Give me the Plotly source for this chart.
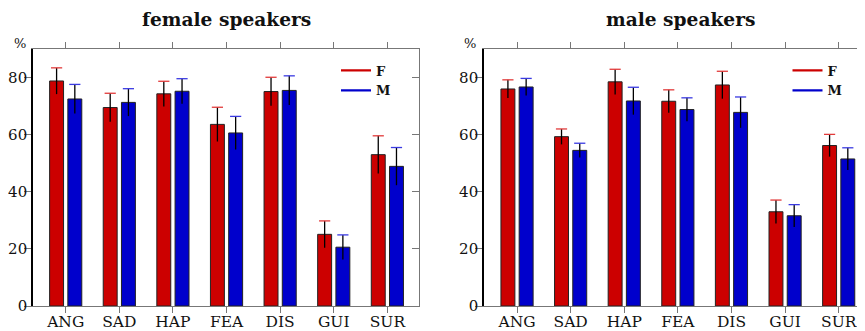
import plotly.graph_objects as go

categories = ["ANG", "SAD", "HAP", "FEA", "DIS", "GUI", "SUR"]
female_F = [78.8, 69.5, 74.3, 63.6, 75.1, 25.1, 53.0]
female_F_err = [4.6, 5.0, 4.4, 6.0, 5.0, 4.7, 6.6]
female_M = [72.5, 71.3, 75.2, 60.6, 75.5, 20.6, 48.9]
female_M_err = [5.1, 4.8, 4.4, 5.8, 5.1, 4.3, 6.6]
male_F = [76.0, 59.3, 78.5, 71.7, 77.4, 33.0, 56.2]
male_F_err = [3.2, 2.7, 4.4, 4.0, 4.8, 4.1, 3.9]
male_M = [76.7, 54.5, 71.8, 68.8, 67.8, 31.6, 51.5]
male_M_err = [3.0, 2.5, 4.8, 4.1, 5.4, 3.9, 3.9]
y_ticks = [0, 20, 40, 60, 80]
panel_titles = ["female speakers", "male speakers"]
series_names = ["F", "M"]

RED = "#CC0000"
BLUE = "#0000CC"
RED_CAP = "#E23A3A"
BLUE_CAP = "#3A3AE2"
W, H = 865, 331
OFF = 8  # page body margin offset
T = 49 - OFF
PLOT_BOTTOM = 306 - OFF
B = H - PLOT_BOTTOM
PLOT_H = PLOT_BOTTOM - T
SERIF = "DejaVu Serif"

idx = list(range(len(categories)))
fig = go.Figure()


def py(pix):
    """window pixel y -> paper y"""
    return (PLOT_BOTTOM - (pix - OFF)) / PLOT_H


def px(pix):
    """window pixel x -> paper x"""
    return (pix - OFF) / W


def add_panel(xa, ya, F, Ferr, M, Merr, legend):
    for vals, errs, color, cap, off, name in [
        (F, Ferr, RED, RED_CAP, -0.30, series_names[0]),
        (M, Merr, BLUE, BLUE_CAP, 0.04, series_names[1]),
    ]:
        centers = [i + off + 0.13 for i in idx]
        fig.add_trace(go.Bar(
            x=idx, y=vals, width=0.26, offset=off,
            marker=dict(color=color, line=dict(color="#222222", width=1)),
            xaxis=xa, yaxis=ya, showlegend=False, hoverinfo="skip"))
        fig.add_trace(go.Scatter(
            x=centers, y=vals, mode="markers",
            marker=dict(size=1, opacity=0),
            error_y=dict(type="data", array=errs, color="black",
                         thickness=1.3, width=0),
            xaxis=xa, yaxis=ya, showlegend=False, hoverinfo="skip"))
        fig.add_trace(go.Scatter(
            x=centers, y=[v + e for v, e in zip(vals, errs)], mode="markers",
            marker=dict(symbol="line-ew", size=8,
                        line=dict(color=cap, width=1.3)),
            xaxis=xa, yaxis=ya, showlegend=False, hoverinfo="skip"))
        fig.add_trace(go.Scatter(
            x=[None], y=[None], mode="lines", name=name,
            line=dict(color=color, width=2.2),
            xaxis=xa, yaxis=ya, legend=legend, showlegend=True))


add_panel("x", "y", female_F, female_F_err, female_M, female_M_err, "legend")
add_panel("x2", "y2", male_F, male_F_err, male_M, male_M_err, "legend2")

xcommon = dict(
    tickmode="array", tickvals=idx, ticktext=categories,
    ticks="outside", ticklen=6, tickcolor="#777777", tickwidth=1,
    showline=True, linecolor="#777777", linewidth=1, mirror="ticks",
    showgrid=False, zeroline=False, ticklabelstandoff=-5,
    tickfont=dict(family=SERIF, size=15.5, color="#111111"),
    automargin=False, fixedrange=True,
)
ycommon = dict(
    range=[0, 90], tickmode="array", tickvals=y_ticks,
    ticks="outside", ticklen=7, tickcolor="#777777", tickwidth=1,
    showline=True, linecolor="black", linewidth=1.6,
    showgrid=False, zeroline=False, ticklabelstandoff=-6,
    tickfont=dict(family=SERIF, size=15, color="#111111"),
    automargin=False, fixedrange=True,
)
yright = dict(
    range=[0, 90], side="right", tickmode="array", tickvals=y_ticks,
    ticks="inside", ticklen=7, tickcolor="#777777", showline=True,
    linecolor="#777777", linewidth=1, showticklabels=False, showgrid=False,
    zeroline=False, fixedrange=True,
)

d1 = [px(33), px(419)]
d2 = [px(484), px(870)]

legend_common = dict(
    xanchor="left", yanchor="top", bgcolor="rgba(0,0,0,0)", borderwidth=0,
    font=dict(family=SERIF, size=13, color="#111111", weight="bold"),
    tracegroupgap=0, itemwidth=30,
)

fig.update_layout(
    width=W, height=H,
    margin=dict(l=0, r=0, t=T, b=B, pad=0),
    paper_bgcolor="white", plot_bgcolor="white",
    barmode="overlay",
    xaxis=dict(domain=d1, range=[-0.61, 6.59], anchor="y", **xcommon),
    yaxis=dict(domain=[0, 1], anchor="x", **ycommon),
    xaxis2=dict(domain=d2, range=[-0.616, 6.584], anchor="y2", **xcommon),
    yaxis2=dict(domain=[0, 1], anchor="x2", **ycommon),
    yaxis3=dict(overlaying="y", anchor="x", **yright),
    yaxis4=dict(overlaying="y2", anchor="x2", **yright),
    legend=dict(x=px(336), y=py(55.5), **legend_common),
    legend2=dict(x=px(787.5), y=py(55.5), **legend_common),
    showlegend=True,
)

# empty traces to register the right-hand mirror axes
fig.add_trace(go.Scatter(x=[None], y=[None], xaxis="x", yaxis="y3",
                         showlegend=False, hoverinfo="skip"))
fig.add_trace(go.Scatter(x=[None], y=[None], xaxis="x2", yaxis="y4",
                         showlegend=False, hoverinfo="skip"))

for cx, title, pcx in [(226.8, panel_titles[0], 19.7), (680, panel_titles[1], 470)]:
    fig.add_annotation(text="<b>" + title + "</b>", x=px(cx), y=py(32.5),
                       xref="paper", yref="paper", xanchor="center", yanchor="bottom",
                       showarrow=False, font=dict(family=SERIF, size=18.6, color="#111111"))
    fig.add_annotation(text="%", x=px(pcx), y=py(43.3),
                       xref="paper", yref="paper", xanchor="center", yanchor="middle",
                       showarrow=False, font=dict(family=SERIF, size=13, color="#111111"))

fig.write_html("out.html")
